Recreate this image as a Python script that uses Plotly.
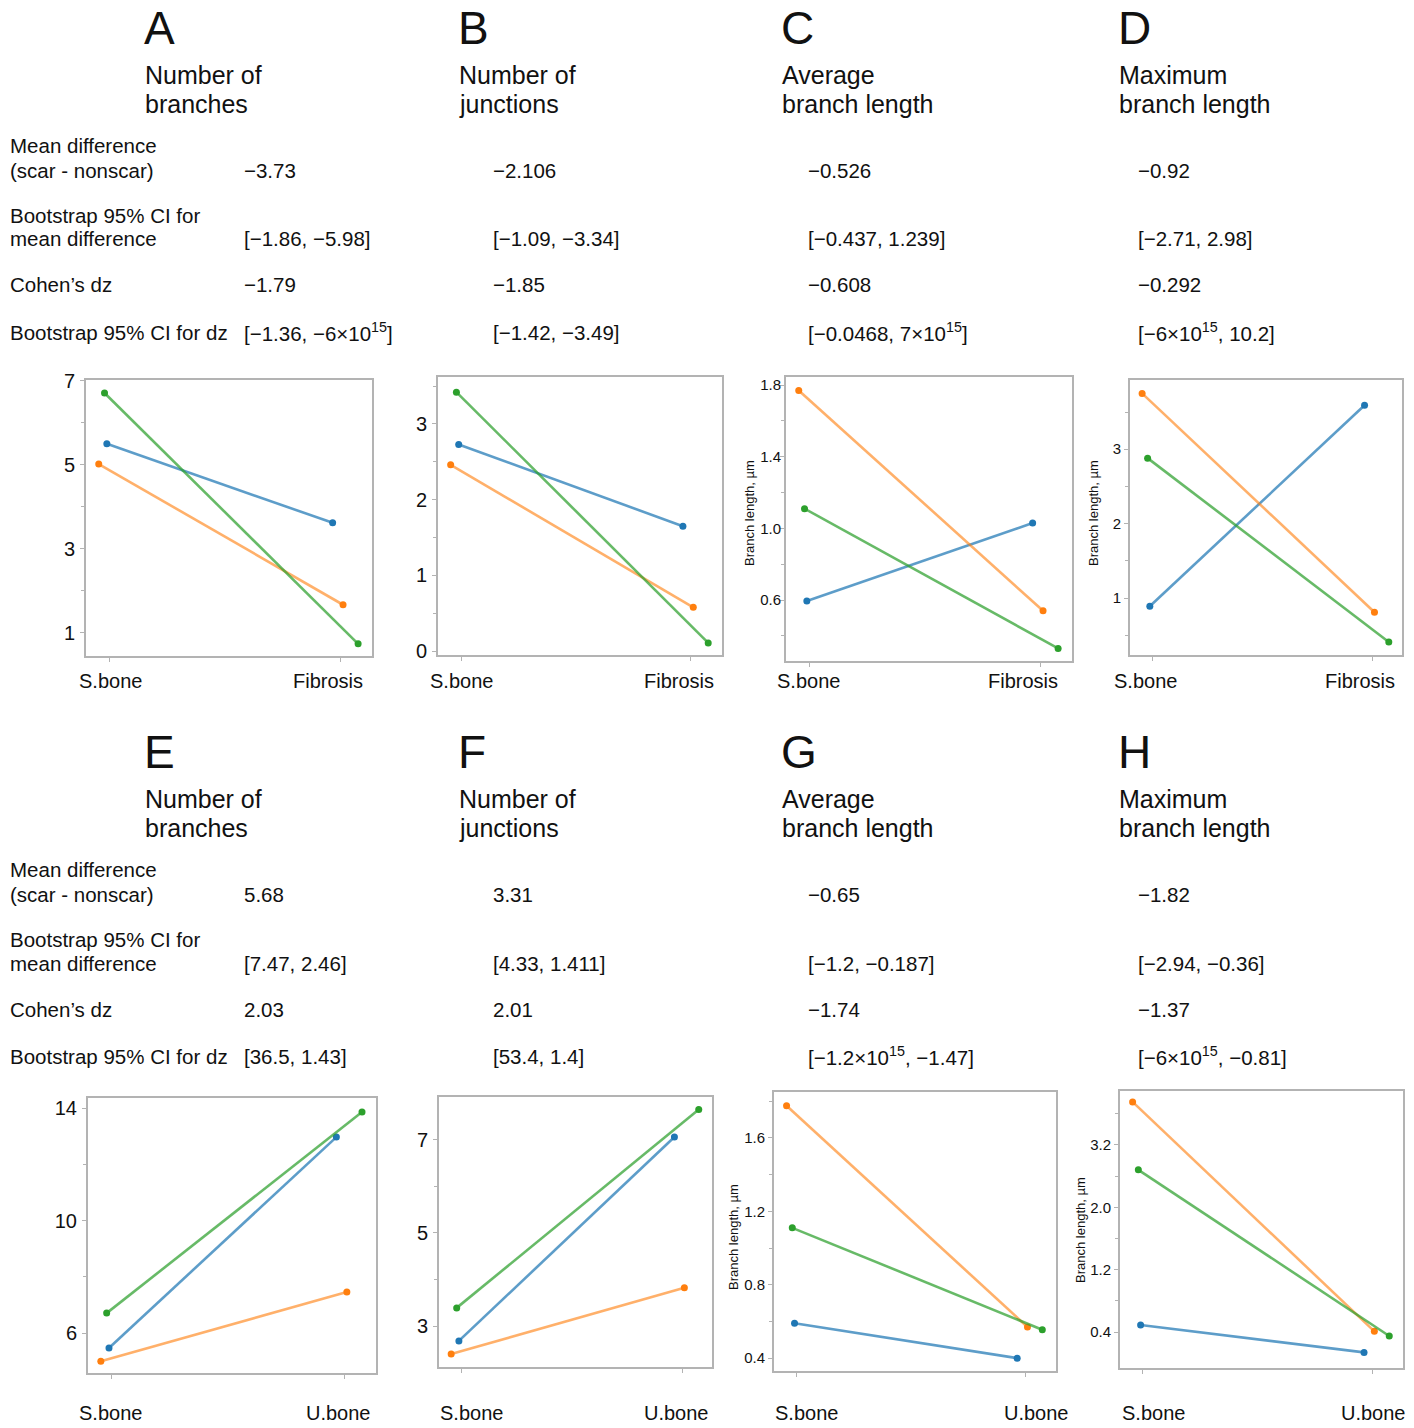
import plotly.graph_objects as go

W, H = 1414, 1428

# ---------------- data ----------------
categories_top = ["S.bone", "Fibrosis"]
categories_bottom = ["S.bone", "U.bone"]

# sample x positions (category index with small jitter): [first, second]
x_blue = [-0.01, 0.965]
x_orange = [-0.045, 1.01]
x_green = [-0.02, 1.075]

# values [S.bone, Fibrosis/U.bone]
A_blue, A_orange, A_green = [5.50, 3.62], [5.02, 1.67], [6.71, 0.74]
B_blue, B_orange, B_green = [2.73, 1.65], [2.46, 0.58], [3.42, 0.11]
C_blue, C_orange, C_green = [0.595, 1.03], [1.77, 0.54], [1.11, 0.33]
D_blue, D_orange, D_green = [0.89, 3.59], [3.75, 0.81], [2.88, 0.41]
E_blue, E_orange, E_green = [5.47, 12.97], [5.00, 7.46], [6.71, 13.86]
F_blue, F_orange, F_green = [2.68, 7.06], [2.40, 3.82], [3.39, 7.65]
G_blue, G_orange, G_green = [0.59, 0.40], [1.775, 0.57], [1.11, 0.555]
H_blue, H_orange, H_green = [0.89, 0.54], [3.75, 0.81], [2.88, 0.75]

panel_letters = ["A", "B", "C", "D", "E", "F", "G", "H"]
panel_titles = [
    ["Number of", "branches"], ["Number of", "junctions"],
    ["Average", "branch length"], ["Maximum", "branch length"],
    ["Number of", "branches"], ["Number of", "junctions"],
    ["Average", "branch length"], ["Maximum", "branch length"],
]
row_labels = [["Mean difference", "(scar - nonscar)"],
              ["Bootstrap 95% CI for", "mean difference"],
              ["Cohen’s dz"],
              ["Bootstrap 95% CI for dz"]]
mean_diff = ["−3.73", "−2.106", "−0.526", "−0.92", "5.68", "3.31", "−0.65", "−1.82"]
ci_mean = ["[−1.86, −5.98]", "[−1.09, −3.34]", "[−0.437, 1.239]", "[−2.71, 2.98]",
           "[7.47, 2.46]", "[4.33, 1.411]", "[−1.2, −0.187]", "[−2.94, −0.36]"]
cohen_dz = ["−1.79", "−1.85", "−0.608", "−0.292", "2.03", "2.01", "−1.74", "−1.37"]
ci_dz = ["[−1.36, −6×10<sup>15</sup>]", "[−1.42, −3.49]", "[−0.0468, 7×10<sup>15</sup>]",
         "[−6×10<sup>15</sup>, 10.2]", "[36.5, 1.43]", "[53.4, 1.4]",
         "[−1.2×10<sup>15</sup>, −1.47]", "[−6×10<sup>15</sup>, −0.81]"]

A_yticks, A_yminor = [1, 3, 5, 7], [2, 4, 6]
B_yticks, B_yminor = [0, 1, 2, 3], [0.5, 1.5, 2.5, 3.5]
C_yticks, C_yminor = [0.6, 1.0, 1.4, 1.8], [0.4, 0.8, 1.2, 1.6]
D_yticks, D_yminor = [1, 2, 3], [0.5, 1.5, 2.5, 3.5]
E_yticks, E_yminor = [6, 10, 14], [8, 12]
F_yticks, F_yminor = [3, 5, 7], [4, 6]
G_yticks, G_yminor = [0.4, 0.8, 1.2, 1.6], [0.6, 1.0, 1.4, 1.8]
H_yticks, H_yminor = [0.8, 1.6, 2.4, 3.2], [1.2, 2.0, 2.8, 3.6]
H_yticktext = ["0.4", "1.2", "2.0", "3.2"]
y_title = "Branch length, µm"

# ---------------- layout / styling ----------------
FONT = "Liberation Sans, Arial, sans-serif"
TXT = "#111111"
GRAY = "#b3b3b3"
colors_line = {"blue": "rgba(31,119,180,0.72)", "orange": "rgba(255,127,14,0.62)",
               "green": "rgba(44,160,44,0.72)"}
colors_mark = {"blue": "#1f77b4", "orange": "#ff7f0e", "green": "#2ca02c"}
xpos = {"blue": x_blue, "orange": x_orange, "green": x_green}

# box = (left, top, right, bottom) in px; catpos = where category labels sit on the x scale
panels = [
    dict(box=(86, 380, 372, 656), yr=[0.45, 7.02], data=dict(blue=A_blue, orange=A_orange, green=A_green),
         yt=A_yticks, ym=A_yminor, cats=categories_top, big=True, so=1, catpos=[0.006, 0.944]),
    dict(box=(438, 377, 722, 655), yr=[-0.05, 3.62], data=dict(blue=B_blue, orange=B_orange, green=B_green),
         yt=B_yticks, ym=B_yminor, cats=categories_top, big=True, so=1, catpos=[0.004, 0.946]),
    dict(box=(786, 377, 1072, 661), yr=[0.26, 1.845], data=dict(blue=C_blue, orange=C_orange, green=C_green),
         yt=C_yticks, ym=C_yminor, cats=categories_top, big=False, so=-4, fmt=".1f", lab=(749, 513),
         catpos=[-0.002, 0.925]),
    dict(box=(1130, 380, 1402, 655), yr=[0.235, 3.93], data=dict(blue=D_blue, orange=D_orange, green=D_green),
         yt=D_yticks, ym=D_yminor, cats=categories_top, big=False, so=0, lab=(1093, 513),
         catpos=[-0.03, 0.945]),
    dict(box=(88, 1098, 376, 1373), yr=[4.58, 14.36], data=dict(blue=E_blue, orange=E_orange, green=E_green),
         yt=E_yticks, ym=E_yminor, cats=categories_bottom, big=True, so=1, catpos=[-0.004, 0.976]),
    dict(box=(439, 1097, 712, 1367), yr=[2.12, 7.92], data=dict(blue=F_blue, orange=F_orange, green=F_green),
         yt=F_yticks, ym=F_yminor, cats=categories_bottom, big=True, so=1, catpos=[0.047, 0.973]),
    dict(box=(774, 1092, 1056, 1371), yr=[0.33, 1.85], data=dict(blue=G_blue, orange=G_orange, green=G_green),
         yt=G_yticks, ym=G_yminor, cats=categories_bottom, big=False, so=0, fmt=".1f", lab=(733, 1237),
         catpos=[0.044, 1.048]),
    dict(box=(1120, 1091, 1403, 1368), yr=[0.34, 3.89], data=dict(blue=H_blue, orange=H_orange, green=H_green),
         yt=H_yticks, ym=H_yminor, cats=categories_bottom, big=False, so=0, ytext=H_yticktext,
         lab=(1080, 1230), catpos=[0.044, 1.008]),
]

fig = go.Figure()
layout_axes = {}
annotations = []

def px(x):
    return x / W

def py(y):
    return 1 - y / H

for i, p in enumerate(panels, start=1):
    sfx = "" if i == 1 else str(i)
    xa, ya = "x" + sfx, "y" + sfx
    for s in ["blue", "orange", "green"]:
        fig.add_trace(go.Scatter(
            x=xpos[s], y=p["data"][s], mode="lines+markers", xaxis=xa, yaxis=ya,
            line=dict(color=colors_line[s], width=2.6),
            marker=dict(color=colors_mark[s], size=7),
            showlegend=False, hoverinfo="skip"))
    l, t, r, b = p["box"]
    top_row = i <= 4
    label_center = 681 if top_row else 1413
    layout_axes["xaxis" + sfx] = dict(
        domain=[px(l), px(r)], anchor=ya, range=[-0.1, 1.135], automargin=False,
        tickmode="array", tickvals=[0, 1], showticklabels=False,
        ticks="outside", ticklen=4, tickwidth=1, tickcolor=GRAY,
        showline=True, mirror=True, linecolor=GRAY, linewidth=2,
        showgrid=False, zeroline=False, fixedrange=True)
    # category labels placed on the panel's own x scale
    for cx, name in zip(p["catpos"], p["cats"]):
        annotations.append(dict(x=cx, xref=xa, y=py(label_center), yref="paper", text=name,
                                showarrow=False, xanchor="center", yanchor="middle",
                                font=dict(family=FONT, size=20, color=TXT)))
    yax = dict(
        domain=[py(b), py(t)], anchor=xa, range=p["yr"], automargin=False,
        tickmode="array", tickvals=p["yt"],
        ticks="outside", ticklen=4, tickwidth=1, tickcolor=GRAY,
        minor=dict(tickmode="array", tickvals=p["ym"], ticks="outside", ticklen=3,
                   tickcolor=GRAY, showgrid=False),
        tickfont=dict(family=FONT, size=20 if p["big"] else 15, color=TXT),
        ticklabelstandoff=p["so"],
        showline=True, mirror=True, linecolor=GRAY, linewidth=2,
        showgrid=False, zeroline=False, fixedrange=True)
    if "fmt" in p:
        yax["tickformat"] = p["fmt"]
    if "ytext" in p:
        yax["ticktext"] = p["ytext"]
    layout_axes["yaxis" + sfx] = yax
    if "lab" in p:
        annotations.append(dict(x=px(p["lab"][0]), y=py(p["lab"][1]), xref="paper", yref="paper",
                                text=y_title, textangle=-90, showarrow=False,
                                xanchor="center", yanchor="middle",
                                font=dict(family=FONT, size=13, color=TXT)))

def add_text(x, y, text, size):
    annotations.append(dict(x=px(x), y=py(y), xref="paper", yref="paper", text=text,
                            showarrow=False, xanchor="left", yanchor="middle",
                            font=dict(family=FONT, size=size, color=TXT)))

STAT = 20.5
col_title_x = [145, 459, 782, 1119]
col_value_x = [244, 493, 808, 1138]
for row, off in enumerate([0, 724]):
    add_text(8, 146 + off, row_labels[0][0], STAT)
    add_text(8, 170 + off, row_labels[0][1], STAT)
    add_text(8, 215 + off, row_labels[1][0], STAT)
    add_text(8, 239 + off, row_labels[1][1], STAT)
    add_text(8, 285 + off, row_labels[2][0], STAT)
    add_text(8, 332 + off, row_labels[3][0], STAT)
    for c in range(4):
        k = row * 4 + c
        add_text(col_title_x[c] - 3, 28 + off, panel_letters[k], 46)
        add_text(col_title_x[c] - 2, 75 + off, panel_titles[k][0], 25)
        add_text(col_title_x[c] - 2, 104 + off, panel_titles[k][1], 25)
        add_text(col_value_x[c] - 2, 170 + off, mean_diff[k], STAT)
        add_text(col_value_x[c] - 2, 239 + off, ci_mean[k], STAT)
        add_text(col_value_x[c] - 2, 285 + off, cohen_dz[k], STAT)
        add_text(col_value_x[c] - 2, 332 + off, ci_dz[k], STAT)

fig.update_layout(
    width=W, height=H, margin=dict(l=0, r=0, t=0, b=0, autoexpand=False),
    paper_bgcolor="white", plot_bgcolor="white",
    font=dict(family=FONT, color=TXT),
    annotations=annotations, **layout_axes)

fig.write_html("out.html", config={"displayModeBar": False},
               post_script="document.body.style.margin='0';document.body.style.overflow='hidden';")
